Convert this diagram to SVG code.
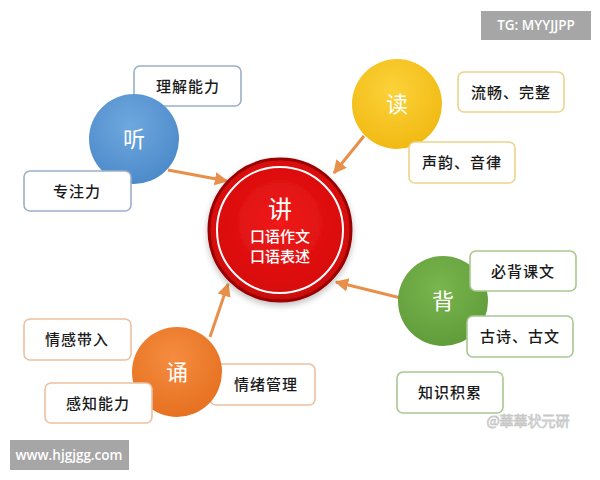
<svg xmlns="http://www.w3.org/2000/svg" width="600" height="480" viewBox="0 0 600 480">
<defs>
<style>
.box{fill:#fff;stroke-width:1.6}
.bt{font-family:"Noto Sans CJK SC","Noto Sans",sans-serif;font-size:15px;font-weight:500;fill:#1a1a1a;text-anchor:middle;letter-spacing:1px}
.ct{font-family:"Noto Sans CJK SC","Noto Sans",sans-serif;font-size:22px;fill:#fff;text-anchor:middle}
.st{font-family:"Noto Sans CJK SC","Noto Sans",sans-serif;font-size:15px;font-weight:500;fill:#fff;text-anchor:middle}
.conn{stroke:#e8904a;stroke-width:3;fill:none;marker-end:url(#ah)}
.badge{fill:#a6a6a6}
.bdt{font-family:"Open Sans","Liberation Sans",sans-serif;font-size:13.5px;font-weight:600;fill:#fff;text-anchor:middle}
</style>
<marker id="ah" viewBox="0 0 10 10" refX="9" refY="5" markerWidth="4.5" markerHeight="4.5" orient="auto" markerUnits="strokeWidth">
<path d="M0,0 L10,5 L0,10 z" fill="#e8904a"/>
</marker>
<radialGradient id="gBlue" cx="0.45" cy="0.35" r="0.7"><stop offset="0" stop-color="#6fa8df"/><stop offset="1" stop-color="#4a88c8"/></radialGradient>
<radialGradient id="gYel" cx="0.45" cy="0.35" r="0.7"><stop offset="0" stop-color="#fcd23a"/><stop offset="1" stop-color="#f0b810"/></radialGradient>
<radialGradient id="gGrn" cx="0.45" cy="0.35" r="0.7"><stop offset="0" stop-color="#7ab64e"/><stop offset="1" stop-color="#5e9a38"/></radialGradient>
<radialGradient id="gOrg" cx="0.45" cy="0.35" r="0.7"><stop offset="0" stop-color="#f58c40"/><stop offset="1" stop-color="#e56f1e"/></radialGradient>
<radialGradient id="gRed" cx="0.5" cy="0.45" r="0.6"><stop offset="0" stop-color="#f01a1a"/><stop offset="0.8" stop-color="#d80c0c"/><stop offset="1" stop-color="#b00606"/></radialGradient>
<filter id="sh" x="-20%" y="-20%" width="140%" height="140%"><feDropShadow dx="0" dy="3" stdDeviation="3" flood-color="#000" flood-opacity="0.25"/></filter>
</defs>
<rect width="600" height="480" fill="#fff"/>

<g id="connectors">
<line class="conn" x1="168" y1="170" x2="227" y2="181"/>
<line class="conn" x1="364" y1="136" x2="334" y2="173"/>
<line class="conn" x1="401" y1="298" x2="336" y2="282"/>
<line class="conn" x1="210" y1="337" x2="228" y2="284"/>
</g>

<g id="node-jiang">
<circle cx="280" cy="230" r="71" fill="url(#gRed)" stroke="#9a0404" stroke-width="3" filter="url(#sh)"/>
<circle cx="280" cy="230" r="63" fill="none" stroke="#fff" stroke-width="2"/>
<text class="ct" x="280" y="218" style="font-size:24px">讲</text>
<text class="st" x="280" y="242">口语作文</text>
<text class="st" x="280" y="262">口语表述</text>
</g>

<g id="node-ting">
<rect class="box" x="134" y="66" width="107" height="40" rx="6" stroke="#9bb0c8"/>
<text class="bt" x="188" y="92">理解能力</text>
<circle cx="134" cy="139" r="45" fill="url(#gBlue)"/>
<text class="ct" x="134" y="147">听</text>
<rect class="box" x="24" y="171" width="107" height="40" rx="6" stroke="#9bb0c8"/>
<text class="bt" x="77" y="197">专注力</text>
</g>

<g id="node-du">
<circle cx="397" cy="104" r="45" fill="url(#gYel)"/>
<text class="ct" x="397" y="112">读</text>
<rect class="box" x="458" y="72" width="106" height="40" rx="6" stroke="#ecd48a"/>
<text class="bt" x="511" y="98">流畅、完整</text>
<rect class="box" x="409" y="142" width="106" height="41" rx="6" stroke="#ecd48a"/>
<text class="bt" x="462" y="168">声韵、音律</text>
</g>

<g id="node-bei">
<circle cx="443" cy="301" r="45" fill="url(#gGrn)"/>
<text class="ct" x="443" y="309">背</text>
<rect class="box" x="470" y="251" width="106" height="40" rx="6" stroke="#a8c890"/>
<text class="bt" x="523" y="277">必背课文</text>
<rect class="box" x="467" y="316" width="106" height="41" rx="6" stroke="#a8c890"/>
<text class="bt" x="520" y="342">古诗、古文</text>
<rect class="box" x="397" y="372" width="106" height="41" rx="6" stroke="#a8c890"/>
<text class="bt" x="450" y="398">知识积累</text>
</g>

<g id="node-song">
<rect class="box" x="210" y="364" width="105" height="41" rx="6" stroke="#ecc0a0"/>
<text class="bt" x="266" y="390">情绪管理</text>
<rect class="box" x="24" y="319" width="107" height="41" rx="6" stroke="#ecc0a0"/>
<text class="bt" x="77" y="345">情感带入</text>
<circle cx="177" cy="372" r="45" fill="url(#gOrg)"/>
<text class="ct" x="177" y="380">诵</text>
<rect class="box" x="45" y="383" width="107" height="40" rx="6" stroke="#ecc0a0"/>
<text class="bt" x="98" y="409">感知能力</text>
</g>

<g id="watermarks">
<rect class="badge" x="481" y="11" width="110" height="29"/>
<text class="bdt" x="536" y="30">TG: MYYJJPP</text>
<rect class="badge" x="10" y="440" width="119" height="30"/>
<text class="bdt" x="69" y="460">www.hjgjgg.com</text>
<text x="528" y="426" font-family="Noto Sans CJK SC,sans-serif" font-size="14" fill="#fff" stroke="#c8c8c8" stroke-width="0.8" text-anchor="middle">@華華状元研</text>
</g>
</svg>
